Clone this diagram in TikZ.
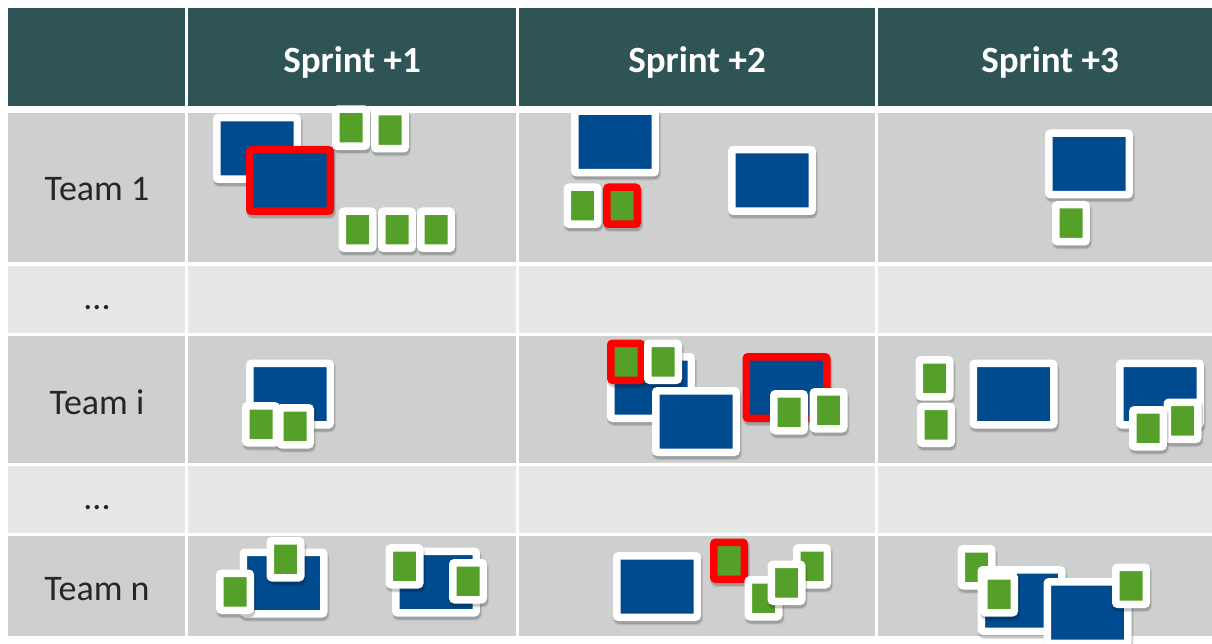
\documentclass[tikz,border=0pt]{standalone}
\usepackage{fontspec}
\setmainfont{Carlito}
\definecolor{hdr}{HTML}{2F5456}
\definecolor{rowA}{HTML}{CDD0CF}
\definecolor{rowB}{HTML}{E6E7E7}
\definecolor{cblue}{HTML}{004A8F}
\definecolor{cgreen}{HTML}{54A028}
\definecolor{cred}{HTML}{FF0000}
\definecolor{txt}{HTML}{262626}
\tikzset{
  cell/.style={inner sep=0, outer sep=0},
  lbl/.style={text=txt, font=\fontsize{36}{40}\selectfont},
  hlbl/.style={text=white, font=\fontsize{37}{40}\selectfont\bfseries},
  shadowbox/.style={fill=black, rounded corners=6pt, inner sep=0, outer sep=0, anchor=north west},
  cardbase/.style={line width=7.5pt, rounded corners=2pt, inner sep=0, outer sep=3.75pt, anchor=north west},
  cardb/.style={cardbase, fill=cblue, minimum width=80.5pt, minimum height=61.5pt},
  cardg/.style={cardbase, fill=cgreen, minimum width=30.5pt, minimum height=37pt},
}
\newcommand\bcard[4]{%
  \node[shadowbox, minimum width=90pt, minimum height=71pt, opacity=.08] at ({#2},{#3+2}) {};
  \node[shadowbox, minimum width=88pt, minimum height=69pt, opacity=.16] at ({#2+1},{#3+3}) {};
  \node[cardb, draw=#4] (#1) at (#2,#3) {};}
\newcommand\gcard[4]{%
  \node[shadowbox, minimum width=40pt, minimum height=46.5pt, opacity=.08] at ({#2},{#3+2}) {};
  \node[shadowbox, minimum width=38pt, minimum height=44.5pt, opacity=.16] at ({#2+1},{#3+3}) {};
  \node[cardg, draw=#4] (#1) at (#2,#3) {};}
\begin{document}
\begin{tikzpicture}[x=1pt,y=-1pt]
\useasboundingbox (0,0) rectangle (1212,644);
\fill[white] (0,0) rectangle (1212,644);
\clip (0,0) rectangle (1212,644);
% header
\fill[hdr] (8,8) rectangle (185,106);
\fill[hdr] (187.5,8) rectangle (516,106);
\fill[hdr] (519,8) rectangle (875,106);
\fill[hdr] (877.5,8) rectangle (1230,106);
% rows
\foreach \ya/\yb/\c in {113.5/262.5/rowA, 266/332.5/rowB, 336/462.7/rowA, 466/532.7/rowB, 535.7/636/rowA}{
  \fill[\c] (8,\ya) rectangle (185,\yb);
  \fill[\c] (187.5,\ya) rectangle (516,\yb);
  \fill[\c] (519,\ya) rectangle (875,\yb);
  \fill[\c] (877.5,\ya) rectangle (1230,\yb);
}
% header texts
\node[hlbl] (h1) at (352,62) {Sprint +1};
\node[hlbl] (h2) at (697,62) {Sprint +2};
\node[hlbl] (h3) at (1050,62) {Sprint +3};
% row labels
\node[lbl] (r1) at (97,189) {Team 1};
\node[lbl] (r2) at (97,308) {...};
\node[lbl] (r3) at (97,402) {Team i};
\node[lbl] (r4) at (97,508) {...};
\node[lbl] (r5) at (97,589) {Team n};
% Team 1 / Sprint +1
\bcard{a1}{213}{114}{white}
\bcard{a2}{246}{146}{cred}
\gcard{a3}{332}{105.5}{white}
\gcard{a4}{371}{108}{white}
\gcard{a5}{338.5}{207.5}{white}
\gcard{a6}{378}{207.5}{white}
\gcard{a7}{417}{207.5}{white}
% Team 1 / Sprint +2
\bcard{b1}{571}{107.5}{white}
\gcard{b2}{563.5}{183.5}{white}
\gcard{b3}{603}{183.5}{cred}
\bcard{b4}{728}{146}{white}
% Team 1 / Sprint +3
\bcard{c1}{1045}{129.5}{white}
\gcard{c2}{1052}{201}{white}
% Team i / Sprint +1
\bcard{d1}{246}{359.5}{white}
\gcard{d2}{242}{402}{white}
\gcard{d3}{276}{404}{white}
% Team i / Sprint +2
\bcard{e1}{607}{353}{white}
\gcard{e2}{607}{339.5}{cred}
\gcard{e3}{644}{339.5}{white}
\bcard{e4}{652}{387}{white}
\bcard{e5}{742.5}{353}{cred}
\gcard{e6}{770}{390}{white}
\gcard{e7}{809.5}{388}{white}
% Team i / Sprint +3
\gcard{f1}{915.5}{356}{white}
\gcard{f2}{917}{402.5}{white}
\bcard{f3}{969.5}{359.5}{white}
\bcard{f4}{1116}{359.5}{white}
\gcard{f5}{1163.5}{398.5}{white}
\gcard{f6}{1129}{406}{white}
% Team n / Sprint +1
\bcard{g1}{239.5}{548.5}{white}
\gcard{g2}{216}{569.5}{white}
\gcard{g3}{266.5}{537}{white}
\bcard{g4}{392}{547.5}{white}
\gcard{g5}{385.5}{544}{white}
\gcard{g6}{449}{559}{white}
% Team n / Sprint +2
\bcard{k1}{613}{552}{white}
\gcard{k2}{710}{538.5}{cred}
\gcard{k3}{793}{544}{white}
\gcard{k4}{744.5}{576}{white}
\gcard{k5}{767.5}{560.5}{white}
% Team n / Sprint +3
\gcard{m1}{957.5}{545}{white}
\bcard{m2}{977.5}{566}{white}
\gcard{m3}{980}{572}{white}
\bcard{m4}{1043.5}{578}{white}
\gcard{m5}{1112}{563.5}{white}
\end{tikzpicture}
\end{document}
